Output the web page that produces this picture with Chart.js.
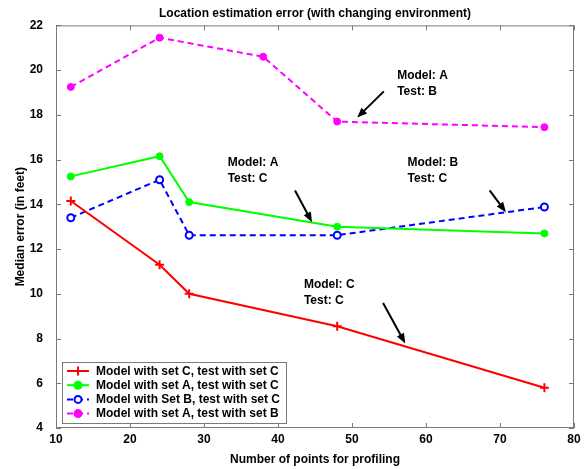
<!DOCTYPE html>
<html lang="en">
<head>
<meta charset="UTF-8">
<title>Location estimation error</title>
<script src="https://cdn.jsdelivr.net/npm/chart.js@4.4.1/dist/chart.umd.min.js"></script>
<style>
	html, body { margin: 0; padding: 0; background: #fff; }
	.box { width: 587px; height: 469px; }
</style>
</head>
<body>
	<div class="box">
		<canvas id="myChart" width="587" height="469"></canvas>
	</div>
<script>
// x: number of points used for profiling
var points   = [12, 24, 28, 48, 76];
var pointsAB = [12, 24, 38, 48, 76];
// median error (feet)
var errCC = [14.15, 11.3, 10.0, 8.55, 5.8];   // model C, test C
var errAC = [15.25, 16.15, 14.1, 13.0, 12.7]; // model A, test C
var errBC = [13.4, 15.1, 12.62, 12.62, 13.88]; // model B, test C
var errAB = [19.25, 21.45, 20.6, 17.7, 17.45]; // model A, test B
var seriesNames = [
	"Model with set C, test with set C",
	"Model with set A, test with set C",
	"Model with Set B, test with set C",
	"Model with set A, test with set B"
];
var xTicks = [10, 20, 30, 40, 50, 60, 70, 80];
var yTicks = [4, 6, 8, 10, 12, 14, 16, 18, 20, 22];

// text callouts (data coords)
var notes = [
	{ lines: ["Model: A", "Test: B"], at: [56.1, 19.76], from: [54.3, 19.05], to: [50.7, 17.88] },
	{ lines: ["Model: A", "Test: C"], at: [33.2, 15.84], from: [42.3, 14.62], to: [44.6, 13.2] },
	{ lines: ["Model: B", "Test: C"], at: [57.5, 15.84], from: [68.6, 14.62], to: [70.8, 13.65] },
	{ lines: ["Model: C", "Test: C"], at: [43.5, 10.41], from: [54.2, 9.59], to: [57.2, 7.78] }
];

function pairs(xs, ys) {
	return xs.map(function (x, i) { return { x: x, y: ys[i] }; });
}

var FONT = "'Liberation Sans', Arial, sans-serif";
var AXIS_GRAY = "#7a7a7a";

// matlab style frame: box + inward ticks on every side
var framePlugin = {
	id: "frame",
	beforeDatasetsDraw: function (chart) {
		var ctx = chart.ctx, a = chart.chartArea;
		var xs = chart.scales.x, ys = chart.scales.y;
		ctx.save();
		ctx.strokeStyle = AXIS_GRAY;
		ctx.lineWidth = 1;
		ctx.strokeRect(a.left + 0.5, a.top + 0.5, a.right - a.left - 1, a.bottom - a.top - 1);
		ctx.beginPath();
		xTicks.forEach(function (v) {
			var px = Math.round(xs.getPixelForValue(v)) + 0.5;
			ctx.moveTo(px, a.bottom); ctx.lineTo(px, a.bottom - 5);
			ctx.moveTo(px, a.top); ctx.lineTo(px, a.top + 5);
		});
		yTicks.forEach(function (v) {
			var py = Math.round(ys.getPixelForValue(v)) + 0.5;
			ctx.moveTo(a.left, py); ctx.lineTo(a.left + 5, py);
			ctx.moveTo(a.right, py); ctx.lineTo(a.right - 5, py);
		});
		ctx.stroke();
		ctx.restore();
	},
	afterDraw: function (chart) {
		var ctx = chart.ctx, a = chart.chartArea;
		var xs = chart.scales.x, ys = chart.scales.y;
		ctx.save();
		// callouts
		ctx.font = "bold 12px " + FONT;
		ctx.fillStyle = "#000";
		ctx.textBaseline = "middle";
		ctx.textAlign = "left";
		notes.forEach(function (n) {
			var tx = xs.getPixelForValue(n.at[0]), ty = ys.getPixelForValue(n.at[1]);
			n.lines.forEach(function (s, i) { ctx.fillText(s, tx, ty + i * 16); });
			var x1 = xs.getPixelForValue(n.from[0]), y1 = ys.getPixelForValue(n.from[1]);
			var x2 = xs.getPixelForValue(n.to[0]), y2 = ys.getPixelForValue(n.to[1]);
			var ang = Math.atan2(y2 - y1, x2 - x1);
			ctx.strokeStyle = "#000";
			ctx.lineWidth = 2;
			ctx.beginPath();
			ctx.moveTo(x1, y1);
			ctx.lineTo(x2 - 6 * Math.cos(ang), y2 - 6 * Math.sin(ang));
			ctx.stroke();
			ctx.beginPath();
			ctx.moveTo(x2, y2);
			ctx.lineTo(x2 - 10 * Math.cos(ang) + 4 * Math.sin(ang), y2 - 10 * Math.sin(ang) - 4 * Math.cos(ang));
			ctx.lineTo(x2 - 10 * Math.cos(ang) - 4 * Math.sin(ang), y2 - 10 * Math.sin(ang) + 4 * Math.cos(ang));
			ctx.closePath();
			ctx.fill();
		});

		// legend box, lower left inside the axes
		var bx = a.left + 6, bw = 224, bh = 61, by = a.bottom - 5 - bh;
		ctx.fillStyle = "#fff";
		ctx.fillRect(bx, by, bw, bh);
		ctx.strokeStyle = AXIS_GRAY;
		ctx.lineWidth = 1;
		ctx.strokeRect(bx + 0.5, by + 0.5, bw, bh);
		chart.data.datasets.forEach(function (ds, i) {
			var cy = by + 9 + i * 14.2;
			ctx.strokeStyle = ds.borderColor;
			ctx.lineWidth = 2;
			ctx.setLineDash(ds.borderDash || []);
			ctx.beginPath();
			ctx.moveTo(bx + 5, cy); ctx.lineTo(bx + 27, cy);
			ctx.stroke();
			ctx.setLineDash([]);
			var mx = bx + 16;
			ctx.beginPath();
			if (ds.pointStyle === "cross") {
				ctx.moveTo(mx - 4.5, cy); ctx.lineTo(mx + 4.5, cy);
				ctx.moveTo(mx, cy - 4.5); ctx.lineTo(mx, cy + 4.5);
				ctx.stroke();
			} else {
				ctx.arc(mx, cy, ds.pointRadius, 0, Math.PI * 2);
				ctx.fillStyle = ds.pointBackgroundColor;
				ctx.fill();
				ctx.stroke();
			}
			ctx.fillStyle = "#000";
			ctx.font = "bold 12px " + FONT;
			ctx.fillText(ds.label, bx + 34, cy + 0.5);
		});
		ctx.restore();
	}
};

var ctx = document.getElementById("myChart");
var myChart = new Chart(ctx, {
	type: "line",
	data: {
		datasets: [{
			label: seriesNames[0],
			data: pairs(points, errCC),
			borderColor: "#ff0000",
			backgroundColor: "#ff0000",
			pointStyle: "cross",
			pointRadius: 4.5,
			pointBorderWidth: 2,
			pointBackgroundColor: "#ff0000",
			borderWidth: 2
		}, {
			label: seriesNames[1],
			data: pairs(points, errAC),
			borderColor: "#00ff00",
			backgroundColor: "#00ff00",
			pointStyle: "circle",
			pointRadius: 3.5,
			pointBorderWidth: 1,
			pointBackgroundColor: "#00ff00",
			borderWidth: 2
		}, {
			label: seriesNames[2],
			data: pairs(points, errBC),
			borderColor: "#0000ff",
			backgroundColor: "#ffffff",
			borderDash: [6, 4],
			pointStyle: "circle",
			pointRadius: 3.5,
			pointBorderWidth: 2,
			pointBackgroundColor: "#ffffff",
			borderWidth: 2
		}, {
			label: seriesNames[3],
			data: pairs(pointsAB, errAB),
			borderColor: "#ff00ff",
			backgroundColor: "#ff00ff",
			borderDash: [6, 4],
			pointStyle: "circle",
			pointRadius: 3.5,
			pointBorderWidth: 1,
			pointBackgroundColor: "#ff00ff",
			borderWidth: 2
		}]
	},
	options: {
		responsive: false,
		animation: false,
		devicePixelRatio: 1,
		layout: { padding: { top: 0, right: 13, bottom: 0, left: 0 } },
		elements: { line: { tension: 0 } },
		plugins: {
			legend: { display: false },
			tooltip: { enabled: false },
			title: {
				display: true,
				fullSize: false,
				text: "Location estimation error (with changing environment)",
				color: "#000",
				font: { family: FONT, size: 12, weight: "bold" },
				padding: { top: 6, bottom: 5 }
			}
		},
		scales: {
			x: {
				type: "linear",
				min: 10,
				max: 80,
				afterFit: function (scale) { scale.height = 41; },
				afterBuildTicks: function (scale) { scale.ticks = xTicks.map(function (v) { return { value: v }; }); },
				ticks: { color: "#000", padding: -4, maxRotation: 0, font: { family: FONT, size: 12, weight: "bold" } },
				grid: { display: false },
				border: { display: false },
				title: {
					display: true,
					text: "Number of points for profiling",
					color: "#000",
					font: { family: FONT, size: 12, weight: "bold" },
					padding: { top: 0, bottom: 2 }
				}
			},
			y: {
				min: 4,
				max: 22,
				afterFit: function (scale) { scale.width = 56; },
				afterBuildTicks: function (scale) { scale.ticks = yTicks.map(function (v) { return { value: v }; }); },
				ticks: { color: "#000", padding: 5, font: { family: FONT, size: 12, weight: "bold" } },
				grid: { display: false },
				border: { display: false },
				title: {
					display: true,
					text: "Median error (in feet)",
					color: "#000",
					font: { family: FONT, size: 12, weight: "bold" },
					padding: { top: 13, bottom: 0 }
				}
			}
		}
	},
	plugins: [framePlugin]
});
</script>
</body>
</html>
